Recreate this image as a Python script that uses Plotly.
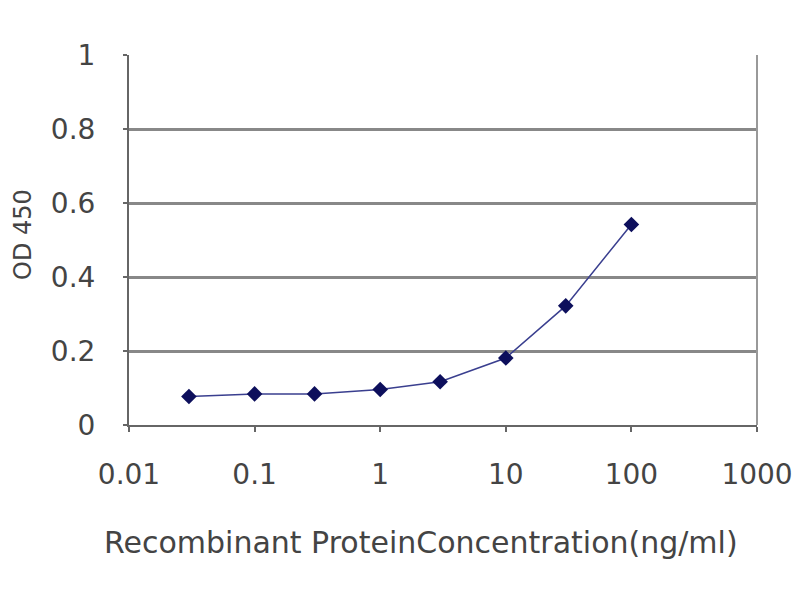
import plotly.graph_objects as go

concentration = [0.03, 0.1, 0.3, 1, 3, 10, 30, 100]
od450 = [0.077, 0.084, 0.084, 0.096, 0.117, 0.181, 0.322, 0.542]

x_ticks = [0.01, 0.1, 1, 10, 100, 1000]
x_tick_labels = ["0.01", "0.1", "1", "10", "100", "1000"]
y_ticks = [0, 0.2, 0.4, 0.6, 0.8, 1]
y_tick_labels = ["0", "0.2", "0.4", "0.6", "0.8", "1"]

x_title = "Recombinant ProteinConcentration(ng/ml)"
y_title = "OD 450"

fig = go.Figure(
    data=[
        go.Scatter(x=concentration, y=od450,
                   mode="lines+markers",
                   line=dict(color="#3a3f8f", width=1.5),
                   marker=dict(symbol="diamond", size=12, color="#0d0f5c"))
    ]
)

# page has an 8px body margin, so margins are shifted by 8px
fig.update_layout(
    width=800, height=600,
    margin=dict(l=121, r=51, t=47, b=183),
    paper_bgcolor="white",
    plot_bgcolor="white",
    showlegend=False,
    font=dict(family="DejaVu Sans", size=28, color="#444444"),
)

fig.update_xaxes(
    type="log",
    range=[-2, 3],
    tickvals=x_ticks,
    ticktext=x_tick_labels,
    showgrid=False,
    showline=True, linecolor="#666666", linewidth=2,
    mirror=False,
    ticks="outside", ticklen=5, tickcolor="#666666", tickwidth=2,
    ticklabelstandoff=18,
    automargin=False,
)

fig.update_yaxes(
    range=[0, 1],
    tickvals=y_ticks,
    ticktext=y_tick_labels,
    showgrid=True, gridcolor="#888888", gridwidth=2.5,
    showline=True, linecolor="#666666", linewidth=2,
    zeroline=False,
    ticks="outside", ticklen=4, tickcolor="#666666", tickwidth=2,
    ticklabelstandoff=22,
    automargin=False,
)

# axis titles as annotations so they can sit where the original has them
fig.add_annotation(text=x_title, xref="paper", yref="paper",
                   x=0.465, y=-0.318, showarrow=False,
                   xanchor="center", yanchor="middle",
                   font=dict(size=30))
fig.add_annotation(text=y_title, xref="paper", yref="paper",
                   x=-0.168, y=0.515, showarrow=False, textangle=-90,
                   xanchor="center", yanchor="middle",
                   font=dict(size=24))

# right border line of the plot area
fig.add_shape(type="line", xref="paper", yref="paper",
              x0=1, x1=1, y0=0, y1=1,
              line=dict(color="#999999", width=2))

fig.write_html("out.html")
